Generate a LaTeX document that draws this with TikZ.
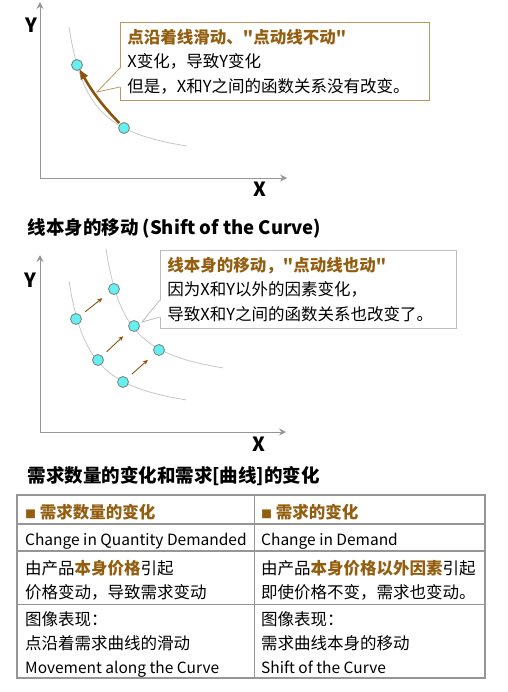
\documentclass[tikz,border=0pt]{standalone}
\usepackage{fontspec}
\setmainfont{Noto Sans CJK SC}[Ligatures=TeXOff]
\usepackage{tikz}
\usetikzlibrary{arrows.meta, positioning, calc}

\definecolor{notebrown}{RGB}{148,94,16}
\definecolor{arrowbrown}{RGB}{138,84,12}
\definecolor{boxbrown}{RGB}{190,150,96}
\definecolor{boxgray}{RGB}{188,188,188}
\definecolor{axisgray}{RGB}{150,150,150}
\definecolor{curvegray}{RGB}{198,198,198}
\definecolor{dotcyan}{RGB}{100,240,240}
\definecolor{dotrim}{RGB}{125,125,125}
\definecolor{rulegray}{RGB}{150,150,150}

\newcommand{\bodyfont}{\fontsize{16.5}{24.5}\selectfont}
\newcommand{\headfont}{\fontsize{18.5}{24}\selectfont\bfseries}
\newcommand{\hl}[1]{\textcolor{notebrown}{\textbf{#1}}}
\newcommand{\eng}[1]{{\fontsize{15.5}{24}\selectfont #1}}

\begin{document}
\begin{tikzpicture}[x=1pt, y=-1pt,
  axis/.style={draw=axisgray, line width=0.9pt,
    -{Stealth[length=7pt, width=7pt, inset=2.5pt]}},
  curve/.style={draw=curvegray, line width=0.8pt},
  dot/.style={circle, draw=dotrim, fill=dotcyan, line width=0.8pt,
    minimum size=11pt, inner sep=0pt},
  axislabel/.style={anchor=base, font=\fontsize{19.5}{20}\selectfont\bfseries},
  note/.style={draw=#1, fill=white, line width=0.8pt, anchor=north west,
    align=left, inner xsep=7pt, inner ysep=0pt, font=\bodyfont},
  cell/.style={anchor=base west, align=left, inner sep=0pt,
    font=\fontsize{16.5}{24}\selectfont},
  nudge/.style={draw=arrowbrown, line width=0.9pt,
    -{Stealth[length=5pt, width=4.5pt]}, shorten <=6pt, shorten >=9pt}]

  \useasboundingbox (0,0) rectangle (507,692);

  % --- point moves along the curve
  \draw[axis] (40,178) -- (40,2);
  \draw[axis] (40,178) -- (287,178);
  \node[axislabel] (ytop) at (31,33) {Y};
  \node[axislabel] (xtop) at (260,197) {X};

  \draw[curve] plot[domain=69:187, samples=50]
    (\x, {178-(3072/(\x-47.2)+10)});
  \node[dot] (slidehi) at (77,65) {};
  \node[dot] (slidelo) at (124,128) {};
  \draw[arrowbrown, line width=2.6pt, -{Latex[length=11pt, width=9pt]},
    shorten <=1pt, shorten >=-2pt] (slidelo) to[bend left=7] (slidehi);

  \node[note=boxbrown, text width=295pt, minimum height=78pt]
  (slidenote) at (120,22) {
    \hl{点沿着线滑动、"点动线不动"}\\
    X变化，导致Y变化\\
    但是，X和Y之间的函数关系没有改变。
  };
  \coordinate (slidetip) at (97,92);
  \fill[white] ($(slidenote.north west)+(1,46)$) -- (slidetip)
    -- ($(slidenote.north west)+(1,65)$) -- cycle;
  \draw[boxbrown, line width=0.8pt] ($(slidenote.north west)+(0,46)$)
    -- (slidetip) -- ($(slidenote.north west)+(0,65)$);

  % --- the curve itself moves
  \node[anchor=base west, font=\headfont] (shifthead) at (24,235)
    {线本身的移动 (Shift of the Curve)};

  \draw[axis] (40,432) -- (40,255);
  \draw[axis] (40,432) -- (286,432);
  \node[axislabel] (ymid) at (30,287) {Y};
  \node[axislabel] (xmid) at (259,451) {X};

  \draw[curve] plot[domain=69:186, samples=50]
    (\x, {432-(3072/(\x-47.2)+10)});
  \draw[curve] plot[domain=106:223, samples=50]
    (\x, {432-(3072/(\x-84.2)+42)});

  \node[dot] (old1) at (76,319) {};
  \node[dot] (old2) at (98,360) {};
  \node[dot] (old3) at (123,382) {};
  \node[dot] (new1) at (114,289) {};
  \node[dot] (new2) at (134,326) {};
  \node[dot] (new3) at (159,350) {};
  \foreach \i in {1,2,3}
    \draw[nudge] (old\i) -- (new\i);

  \node[note=boxgray, text width=282pt, minimum height=78pt]
  (shiftnote) at (160,250) {
    \hl{线本身的移动，"点动线也动"}\\
    因为X和Y以外的因素变化，\\
    导致X和Y之间的函数关系也改变了。
  };
  \coordinate (shifttip) at (142,322);
  \fill[white] ($(shiftnote.north west)+(1,50)$) -- (shifttip)
    -- ($(shiftnote.north west)+(1,67)$) -- cycle;
  \draw[boxgray, line width=0.8pt] ($(shiftnote.north west)+(0,50)$)
    -- (shifttip) -- ($(shiftnote.north west)+(0,67)$);

  % --- comparison table (base = last line of each cell)
  \node[anchor=base west, font=\headfont] (tablehead) at (24,482)
    {需求数量的变化和需求[曲线]的变化};

  \draw[rulegray, line width=1.6pt] (17,495) rectangle (485,678);
  \draw[rulegray, line width=1.5pt] (17,524) -- (485,524);
  \draw[rulegray, line width=1.8pt] (17,551) -- (485,551);
  \draw[rulegray, line width=1pt] (17,604) -- (485,604);
  \draw[rulegray, line width=1pt] (254,495) -- (254,678);

  \node[cell] (qtyhead) at (25,518)
    {\hl{{\fontsize{11}{11}\selectfont ■} 需求数量的变化}};
  \node[cell] (dmdhead) at (261,518)
    {\hl{{\fontsize{11}{11}\selectfont ■} 需求的变化}};
  \node[cell] (qtyname) at (25,545) {\eng{Change in Quantity Demanded}};
  \node[cell] (dmdname) at (261,545) {\eng{Change in Demand}};
  \node[cell] (qtycause) at (25,598)
    {由产品\hl{本身价格}引起\\价格变动，导致需求变动};
  \node[cell] (dmdcause) at (261,598)
    {由产品\hl{本身价格以外因素}引起\\即使价格不变，需求也变动。};
  \node[cell] (qtygraph) at (25,673)
    {图像表现：\\点沿着需求曲线的滑动\\\eng{Movement along the Curve}};
  \node[cell] (dmdgraph) at (261,673)
    {图像表现：\\需求曲线本身的移动\\\eng{Shift of the Curve}};
\end{tikzpicture}
\end{document}
